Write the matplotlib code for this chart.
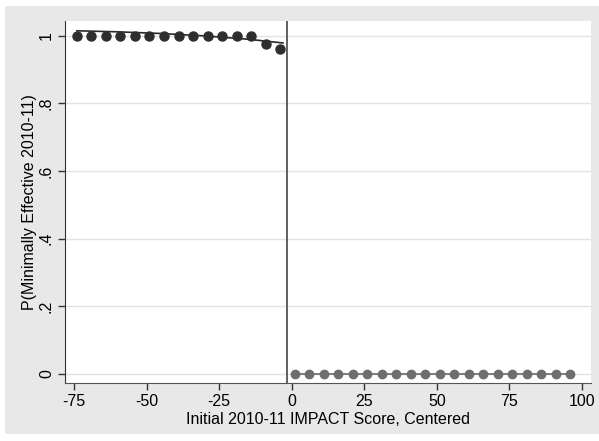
import numpy as np
import matplotlib.pyplot as plt
from matplotlib.patches import Rectangle

plt.rcParams['font.family'] = ['Liberation Sans', 'DejaVu Sans']
plt.rcParams['axes.unicode_minus'] = False

# binned means, left of cutoff
x_left = [-74, -69, -64, -59, -54, -49, -44, -39, -34, -29, -24, -19, -14, -9, -4]
y_left = [1.0, 1.0, 1.0, 1.0, 1.0, 1.0, 1.0, 1.0, 1.0, 1.0, 1.0, 1.0, 1.0, 0.975, 0.96]
# binned means, right of cutoff
x_right = [1, 6, 11, 16, 21, 26, 31, 36, 41, 46, 51, 56, 61, 66, 71, 76, 81, 86, 91, 96]
y_right = [0.0] * 20

# fitted lines
fit_left_x = [-74, -60, -45, -30, -15, -3]
fit_left_y = [1.015, 1.012, 1.007, 1.000, 0.990, 0.979]
fit_right_x = [1, 96]
fit_right_y = [0.0, 0.0]

cutoff = -1.5

fig = plt.figure(figsize=(5.99, 4.41), dpi=100, facecolor='white')
fig.patches.append(Rectangle((5/599, 7/441), 594/599, 428/441, transform=fig.transFigure,
                             facecolor='#e8e8e8', edgecolor='none', zorder=-10))
ax = fig.add_axes([65/599, 58/441, 526/599, 362/441])
ax.set_facecolor('white')

ax.plot(fit_left_x, fit_left_y, color='#2a2a2a', lw=1.2, zorder=3)
ax.plot(x_left, y_left, 'o', color='#2e2e2e', ms=6.5, zorder=4)
ax.plot(fit_right_x, fit_right_y, color='#6a6a6a', lw=1.2, zorder=3)
ax.plot(x_right, y_right, 'o', color='#6e6e6e', ms=6, zorder=4)
ax.axvline(cutoff, color='#555555', lw=1.3, zorder=2)

ax.set_xlim(-78.1, 103.1)
ax.set_ylim(-0.027, 1.044)
ax.set_xticks([-75, -50, -25, 0, 25, 50, 75, 100])
ax.set_yticks([0, 0.2, 0.4, 0.6, 0.8, 1])
ax.set_yticklabels(['0', '.2', '.4', '.6', '.8', '1'], rotation=90, va='center')
ax.grid(axis='y', color='#e3e3e3', lw=1)
ax.set_axisbelow(True)
ax.tick_params(direction='out', length=5, width=1, color='#333333', labelsize=11.5, pad=3)

for s in ['top', 'right']:
    ax.spines[s].set_visible(False)
ax.spines['left'].set_color('#333333')
ax.spines['bottom'].set_color('#555555')

ax.set_xlabel('Initial 2010-11 IMPACT Score, Centered', fontsize=11.5, labelpad=2)
ax.set_ylabel('P(Minimally Effective 2010-11)', fontsize=11.5, labelpad=1)

fig.savefig('out.png', dpi=100)
